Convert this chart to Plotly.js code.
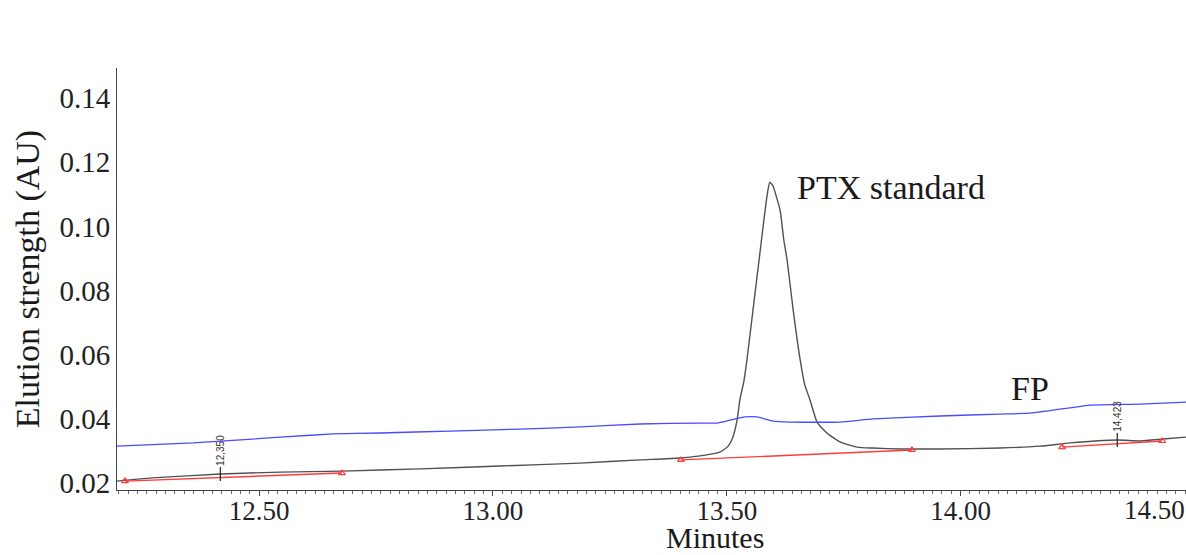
<!DOCTYPE html>
<html>
<head>
<meta charset="utf-8">
<script src="https://cdn.plot.ly/plotly-3.0.1.min.js"></script>
<style>html,body{margin:0;padding:0;background:#fff;}#chart{width:1186px;height:555px;}</style>
</head>
<body>
<div id="chart"></div>
<script>
// PTX standard chromatogram (black)
const ptxTime = [12.196,12.271,12.417,12.545,12.677,12.844,13.015,13.186,13.315,13.400,13.454,13.486,13.503,13.513,13.522,13.528,13.537,13.543,13.556,13.569,13.582,13.588,13.592,13.599,13.605,13.614,13.622,13.629,13.642,13.657,13.667,13.678,13.693,13.714,13.742,13.779,13.813,13.871,13.956,14.084,14.170,14.234,14.335,14.384,14.433,14.482];
const ptxAbs  = [0.0206,0.0216,0.0228,0.0234,0.0237,0.0244,0.0253,0.0262,0.0272,0.0278,0.0287,0.0297,0.0315,0.0343,0.0396,0.0459,0.0521,0.0583,0.0739,0.0895,0.1051,0.1113,0.1138,0.1126,0.1098,0.1051,0.0957,0.0895,0.0739,0.0583,0.0505,0.0459,0.0390,0.0356,0.0328,0.0312,0.0309,0.0306,0.0306,0.0309,0.0315,0.0325,0.0334,0.0331,0.0337,0.0343];

// FP sample chromatogram (blue)
const fpTime = [12.196,12.359,12.545,12.658,12.759,12.908,13.058,13.186,13.315,13.443,13.479,13.507,13.539,13.565,13.599,13.635,13.742,13.813,13.956,14.084,14.148,14.234,14.277,14.384,14.482];
const fpAbs  = [0.0315,0.0325,0.0343,0.0353,0.0356,0.0362,0.0368,0.0375,0.0384,0.0387,0.0387,0.0396,0.0406,0.0406,0.0393,0.0390,0.0390,0.0400,0.0409,0.0415,0.0418,0.0434,0.0443,0.0446,0.0452];

// Integration baselines (red), segments separated by null
const baseTime = [12.213,12.677,null,13.402,13.896,null,14.217,14.431];
const baseAbs  = [0.0206,0.0231,null,0.0272,0.0303,null,0.0312,0.0331];

// Retention-time marks
const rtTime   = [12.417,14.335];
const rtAbs    = [0.0228,0.0334];
const rtLabels = ['12,350','14,423'];

// Tick labels
const xTickVals = [12.5,13.0,13.5,14.0];
const xTickText = ['12.50','13.00','13.50','14.00'];
const xExtraTick = '14.50';

const serif = '"Liberation Serif","Times New Roman",Times,serif';

const traces = [
  {x: ptxTime, y: ptxAbs, mode: 'lines', line: {color: '#505050', width: 1.4, shape: 'spline', smoothing: 0.5}, hoverinfo: 'x+y'},
  {x: baseTime, y: baseAbs, mode: 'lines+markers', connectgaps: false,
   line: {color: '#ff3b3b', width: 1.4},
   marker: {symbol: 'triangle-up-open', size: 6, color: '#ff3b3b', line: {width: 1.2, color: '#ff3b3b'}}},
  {x: fpTime, y: fpAbs, mode: 'lines', line: {color: '#4a4aff', width: 1.3, shape: 'spline', smoothing: 0.4}},
  {x: rtTime, y: rtAbs, mode: 'markers',
   marker: {symbol: 'line-ns', size: 10, color: '#222', line: {width: 1.2, color: '#222'}}}
];

const annotations = rtTime.map((t, i) => ({
  x: t, y: rtAbs[i], xref: 'x', yref: 'y', text: rtLabels[i], showarrow: false,
  textangle: -90, yanchor: 'bottom', xanchor: 'center', yshift: 6,
  font: {family: '"Liberation Sans",Arial,sans-serif', size: 10, color: '#333'}
}));
annotations.push(
  {x: 13.646, y: 0.1120, xref: 'x', yref: 'y', text: 'PTX standard', showarrow: false,
   xanchor: 'left', yanchor: 'middle', font: {family: serif, size: 34, color: '#1a1a1a'}},
  {x: 14.148, y: 0.0496, xref: 'x', yref: 'y', text: 'FP', showarrow: false,
   xanchor: 'center', yanchor: 'middle', font: {family: serif, size: 34, color: '#1a1a1a'}},
  {x: 0.971, y: -0.048, xref: 'paper', yref: 'paper', text: xExtraTick, showarrow: false,
   xanchor: 'center', yanchor: 'middle', font: {family: serif, size: 27, color: '#222'}},
  {x: 0.5594, y: -0.154, xref: 'paper', yref: 'paper', text: 'Minutes', showarrow: false,
   xanchor: 'center', yanchor: 'bottom', borderpad: 0, font: {family: serif, size: 30, color: '#1a1a1a'}}
);

const layout = {
  width: 1186, height: 555,
  margin: {l: 117, r: 0, t: 68, b: 65},
  paper_bgcolor: '#fff', plot_bgcolor: '#fff',
  showlegend: false,
  font: {family: serif, color: '#222'},
  xaxis: {
    range: [12.196, 14.482], tickvals: xTickVals, ticktext: xTickText,
    ticks: 'outside', ticklen: 5, tickcolor: '#444', tickwidth: 1,
    ticklabelstandoff: -8,
    showline: true, linecolor: '#444', linewidth: 1,
    showgrid: false, zeroline: false,
    minor: {dtick: 0.02, tick0: 0, ticks: 'outside', ticklen: 3, tickcolor: '#666', showgrid: false},
    tickfont: {family: serif, size: 27, color: '#222'}
  },
  yaxis: {
    range: [0.01782, 0.1494], dtick: 0.02, tick0: 0, tickformat: '.2f',
    ticks: '', showline: true, linecolor: '#444', linewidth: 1,
    showgrid: false, zeroline: false,
    tickfont: {family: serif, size: 29, color: '#222'},
    title: {text: 'Elution strength (AU)', font: {family: serif, size: 34, color: '#1a1a1a'}}
  },
  annotations: annotations
};

Plotly.newPlot('chart', traces, layout, {displayModeBar: false, staticPlot: true});
</script>
</body>
</html>
